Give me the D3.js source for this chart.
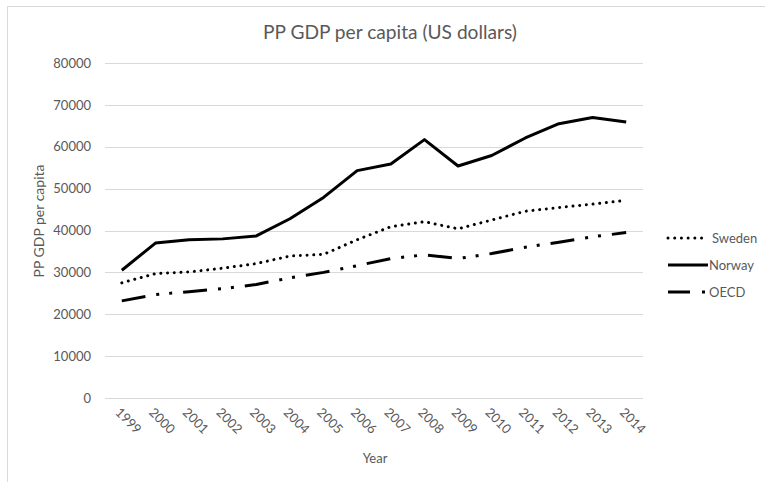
<!DOCTYPE html>
<html>
<head>
<meta charset="utf-8">
<script src="https://cdn.jsdelivr.net/npm/d3@7"></script>
<style>
  html, body { margin: 0; padding: 0; background: #fff; }
  svg { display: block; font-family: Lato, "Open Sans", sans-serif; }
</style>
</head>
<body>
<svg id="chart" width="765" height="482"></svg>
<script>
// values
const years = ['1999', '2000', '2001', '2002', '2003', '2004', '2005', '2006',
  '2007', '2008', '2009', '2010', '2011', '2012', '2013', '2014'];
const sweden = [27500, 29700, 30100, 31000, 32100, 33900, 34300, 37800,
  40900, 42100, 40400, 42500, 44600, 45500, 46300, 47200];
const norway = [30500, 37000, 37800, 38000, 38700, 42800, 47900, 54300,
  55900, 61700, 55400, 57900, 62100, 65500, 67000, 65900];
const oecd = [23200, 24700, 25400, 26100, 27100, 28700, 30000, 31600,
  33300, 34200, 33300, 34500, 36000, 37200, 38500, 39500];
const yTicks = [0, 10000, 20000, 30000, 40000, 50000, 60000, 70000, 80000];
const seriesNames = ['Sweden', 'Norway', 'OECD'];

const styles = {
  Sweden: { dash: '0.01 6.7', cap: 'round', width: 3 },
  Norway: { dash: null, cap: 'butt', width: 3 },
  OECD: { dash: '24 11 3 10 3 11', cap: 'butt', width: 3 }
};
const values = { Sweden: sweden, Norway: norway, OECD: oecd };

const svg = d3.select('#chart');
const grey = '#595959';

// chart frame
svg.append('rect')
  .attr('x', 7.5).attr('y', 6.5)
  .attr('width', 900).attr('height', 600)
  .attr('fill', 'none')
  .attr('stroke', '#d9d9d9');

const x = d3.scaleBand().domain(years).range([105, 643]);
const y = d3.scaleLinear().domain([0, 80000]).range([398, 63]);

// gridlines
svg.append('g')
  .selectAll('line')
  .data(yTicks)
  .join('line')
  .attr('x1', 105).attr('x2', 643)
  .attr('y1', d => Math.round(y(d)) + 0.5)
  .attr('y2', d => Math.round(y(d)) + 0.5)
  .attr('stroke', '#d9d9d9')
  .attr('stroke-width', 1);

// y axis labels
const yAxis = d3.axisLeft(y).tickValues(yTicks).tickSize(0).tickPadding(14).tickFormat(d3.format('d'));
svg.append('g')
  .attr('transform', 'translate(105,0)')
  .call(yAxis)
  .call(g => g.select('.domain').remove())
  .call(g => g.selectAll('text')
    .attr('fill', grey)
    .attr('font-size', 13)
    .attr('font-family', 'Lato, sans-serif'));

// x axis labels
const xAxis = d3.axisBottom(x).tickSize(0).tickPadding(0);
svg.append('g')
  .attr('transform', 'translate(0,398)')
  .call(xAxis)
  .call(g => g.select('.domain').remove())
  .call(g => g.selectAll('text')
    .attr('fill', grey)
    .attr('font-size', 13)
    .attr('font-family', 'Lato, sans-serif')
    .attr('text-anchor', 'start')
    .attr('dy', '0.35em')
    .attr('transform', 'translate(-4,12) rotate(45)'));

// lines
const line = d3.line()
  .x((d, i) => x(years[i]) + x.bandwidth() / 2)
  .y(d => y(d));

seriesNames.forEach(name => {
  const s = styles[name];
  svg.append('path')
    .datum(values[name])
    .attr('d', line)
    .attr('fill', 'none')
    .attr('stroke', '#000')
    .attr('stroke-width', s.width)
    .attr('stroke-linecap', s.cap)
    .attr('stroke-linejoin', 'round')
    .attr('stroke-dasharray', s.dash);
});

// legend
const legend = svg.append('g')
  .selectAll('g')
  .data(seriesNames)
  .join('g')
  .attr('transform', (d, i) => `translate(668,${238 + i * 27})`);

legend.append('line')
  .attr('x1', 0).attr('x2', d => d === 'Norway' ? 40 : 37)
  .attr('y1', 0).attr('y2', 0)
  .attr('stroke', '#000')
  .attr('stroke-width', 3)
  .attr('stroke-linecap', d => styles[d].cap)
  .attr('stroke-dasharray', d => d === 'OECD' ? '22 12 3 20' : styles[d].dash);

legend.append('text')
  .attr('x', d => d === 'Sweden' ? 44 : 41)
  .attr('dy', '0.35em')
  .attr('fill', grey)
  .attr('font-size', 13)
  .text(d => d);

// titles
const title = svg.append('text')
  .attr('x', 390).attr('y', 39)
  .attr('text-anchor', 'middle')
  .attr('fill', grey)
  .attr('font-size', 18)
  .text('PP GDP per capita (US dollars)');
// size the title so it spans about the same width as the picture
const tw = title.node().getComputedTextLength();
title.attr('font-size', 18 * 254 / tw);

svg.append('text')
  .attr('transform', 'translate(44,221) rotate(-90)')
  .attr('text-anchor', 'middle')
  .attr('fill', grey)
  .attr('font-size', 14)
  .text('PP GDP per capita');

svg.append('text')
  .attr('x', 375).attr('y', 463)
  .attr('text-anchor', 'middle')
  .attr('fill', grey)
  .attr('font-size', 13)
  .text('Year');
</script>
</body>
</html>
